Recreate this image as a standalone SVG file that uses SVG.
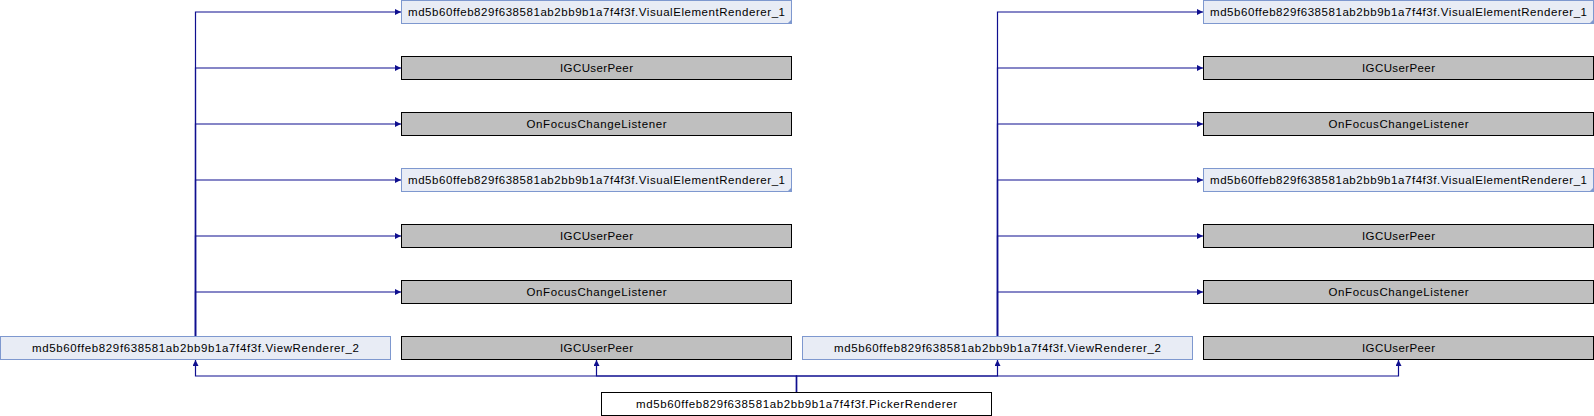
<svg xmlns="http://www.w3.org/2000/svg" width="1594" height="416" viewBox="0 0 1594 416">
<style>
.bg{fill:#ffffff}
.blue{fill:#e8ecf5;stroke:#7e98cf;stroke-width:1}
.gray{fill:#bfbfbf;stroke:#000000;stroke-width:1}
.white{fill:#ffffff;stroke:#000000;stroke-width:1}
.fold{fill:#7e98cf;stroke:none}
text{font-family:"Liberation Sans",Arial,sans-serif;font-size:11.5px;fill:#000000;text-anchor:middle}
.edge{fill:none;stroke:#0f0f8f;stroke-width:1.2}
</style>
<defs>
<marker id="arr" markerUnits="userSpaceOnUse" markerWidth="7" markerHeight="7" refX="6" refY="3" orient="auto">
<path d="M0,0 L6,3 L0,6 z" fill="#0f0f8f"/>
</marker>
</defs>
<rect class="bg" x="0" y="0" width="1594" height="416"/>
<g id="connectors">
<path class="edge" d="M195.5,336.5 V12 H401" marker-end="url(#arr)"/>
<path class="edge" d="M195.5,336.5 V68 H401" marker-end="url(#arr)"/>
<path class="edge" d="M195.5,336.5 V124 H401" marker-end="url(#arr)"/>
<path class="edge" d="M195.5,336.5 V180 H401" marker-end="url(#arr)"/>
<path class="edge" d="M195.5,336.5 V236 H401" marker-end="url(#arr)"/>
<path class="edge" d="M195.5,336.5 V292 H401" marker-end="url(#arr)"/>
<path class="edge" d="M997.5,336.5 V12 H1203" marker-end="url(#arr)"/>
<path class="edge" d="M997.5,336.5 V68 H1203" marker-end="url(#arr)"/>
<path class="edge" d="M997.5,336.5 V124 H1203" marker-end="url(#arr)"/>
<path class="edge" d="M997.5,336.5 V180 H1203" marker-end="url(#arr)"/>
<path class="edge" d="M997.5,336.5 V236 H1203" marker-end="url(#arr)"/>
<path class="edge" d="M997.5,336.5 V292 H1203" marker-end="url(#arr)"/>
<path class="edge" d="M796.5,392.5 V376 H195.5 V360" marker-end="url(#arr)"/>
<path class="edge" d="M796.5,392.5 V376 H596.5 V360" marker-end="url(#arr)"/>
<path class="edge" d="M796.5,392.5 V376 H997.5 V360" marker-end="url(#arr)"/>
<path class="edge" d="M796.5,392.5 V376 H1398.5 V360" marker-end="url(#arr)"/>
</g>
<g id="picker">
<rect class="white" x="601.5" y="392.5" width="390" height="23"/>
<text x="796.5" y="408" textLength="321" lengthAdjust="spacing">md5b60ffeb829f638581ab2bb9b1a7f4f3f.PickerRenderer</text>
</g>
<g id="viewrenderer_left">
<rect class="blue" x="0.5" y="336.5" width="390" height="23"/>
<text x="195.5" y="352" textLength="327" lengthAdjust="spacing">md5b60ffeb829f638581ab2bb9b1a7f4f3f.ViewRenderer_2</text>
</g>
<g id="igcuserpeer_left_bottom">
<rect class="gray" x="401.5" y="336.5" width="390" height="23"/>
<text x="596.5" y="352" textLength="73" lengthAdjust="spacing">IGCUserPeer</text>
</g>
<g id="viewrenderer_right">
<rect class="blue" x="802.5" y="336.5" width="390" height="23"/>
<text x="997.5" y="352" textLength="327" lengthAdjust="spacing">md5b60ffeb829f638581ab2bb9b1a7f4f3f.ViewRenderer_2</text>
</g>
<g id="igcuserpeer_right_bottom">
<rect class="gray" x="1203.5" y="336.5" width="390" height="23"/>
<text x="1398.5" y="352" textLength="73" lengthAdjust="spacing">IGCUserPeer</text>
</g>
<g id="ver_l1">
<rect class="blue" x="401.5" y="0.5" width="390" height="23"/>
<polygon class="fold" points="791.5,19.5 791.5,23.5 787.5,23.5"/>
<text x="596.5" y="16" textLength="377" lengthAdjust="spacing">md5b60ffeb829f638581ab2bb9b1a7f4f3f.VisualElementRenderer_1</text>
</g>
<g id="igc_l1">
<rect class="gray" x="401.5" y="56.5" width="390" height="23"/>
<text x="596.5" y="72" textLength="73" lengthAdjust="spacing">IGCUserPeer</text>
</g>
<g id="ofc_l1">
<rect class="gray" x="401.5" y="112.5" width="390" height="23"/>
<text x="596.5" y="128" textLength="140" lengthAdjust="spacing">OnFocusChangeListener</text>
</g>
<g id="ver_l2">
<rect class="blue" x="401.5" y="168.5" width="390" height="23"/>
<polygon class="fold" points="791.5,187.5 791.5,191.5 787.5,191.5"/>
<text x="596.5" y="184" textLength="377" lengthAdjust="spacing">md5b60ffeb829f638581ab2bb9b1a7f4f3f.VisualElementRenderer_1</text>
</g>
<g id="igc_l2">
<rect class="gray" x="401.5" y="224.5" width="390" height="23"/>
<text x="596.5" y="240" textLength="73" lengthAdjust="spacing">IGCUserPeer</text>
</g>
<g id="ofc_l2">
<rect class="gray" x="401.5" y="280.5" width="390" height="23"/>
<text x="596.5" y="296" textLength="140" lengthAdjust="spacing">OnFocusChangeListener</text>
</g>
<g id="ver_r1">
<rect class="blue" x="1203.5" y="0.5" width="390" height="23"/>
<polygon class="fold" points="1593.5,19.5 1593.5,23.5 1589.5,23.5"/>
<text x="1398.5" y="16" textLength="377" lengthAdjust="spacing">md5b60ffeb829f638581ab2bb9b1a7f4f3f.VisualElementRenderer_1</text>
</g>
<g id="igc_r1">
<rect class="gray" x="1203.5" y="56.5" width="390" height="23"/>
<text x="1398.5" y="72" textLength="73" lengthAdjust="spacing">IGCUserPeer</text>
</g>
<g id="ofc_r1">
<rect class="gray" x="1203.5" y="112.5" width="390" height="23"/>
<text x="1398.5" y="128" textLength="140" lengthAdjust="spacing">OnFocusChangeListener</text>
</g>
<g id="ver_r2">
<rect class="blue" x="1203.5" y="168.5" width="390" height="23"/>
<polygon class="fold" points="1593.5,187.5 1593.5,191.5 1589.5,191.5"/>
<text x="1398.5" y="184" textLength="377" lengthAdjust="spacing">md5b60ffeb829f638581ab2bb9b1a7f4f3f.VisualElementRenderer_1</text>
</g>
<g id="igc_r2">
<rect class="gray" x="1203.5" y="224.5" width="390" height="23"/>
<text x="1398.5" y="240" textLength="73" lengthAdjust="spacing">IGCUserPeer</text>
</g>
<g id="ofc_r2">
<rect class="gray" x="1203.5" y="280.5" width="390" height="23"/>
<text x="1398.5" y="296" textLength="140" lengthAdjust="spacing">OnFocusChangeListener</text>
</g>
</svg>
